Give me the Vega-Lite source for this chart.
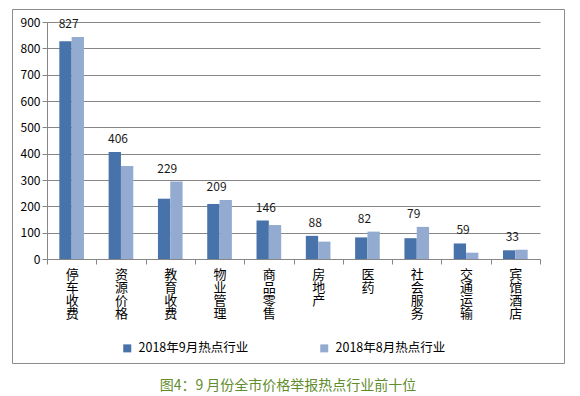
{
  "$schema": "https://vega.github.io/schema/vega-lite/v6.json",
  "autosize": "none",
  "width": 552,
  "height": 354,
  "padding": {"left": 12, "top": 9, "right": 16, "bottom": 33},
  "background": "white",
  "title": {
    "text": "图4：9 月份全市价格举报热点行业前十位",
    "orient": "bottom",
    "anchor": "middle",
    "frame": "group",
    "offset": 16,
    "font": "Noto Sans CJK SC",
    "fontSize": 14,
    "fontWeight": "normal",
    "color": "#5f8d2c"
  },
  "data": {
    "values": [
      {"category": "停车收费", "series": "2018年9月热点行业", "value": 827},
      {"category": "停车收费", "series": "2018年8月热点行业", "value": 843},
      {"category": "资源价格", "series": "2018年9月热点行业", "value": 406},
      {"category": "资源价格", "series": "2018年8月热点行业", "value": 353},
      {"category": "教育收费", "series": "2018年9月热点行业", "value": 229},
      {"category": "教育收费", "series": "2018年8月热点行业", "value": 294},
      {"category": "物业管理", "series": "2018年9月热点行业", "value": 209},
      {"category": "物业管理", "series": "2018年8月热点行业", "value": 224},
      {"category": "商品零售", "series": "2018年9月热点行业", "value": 146},
      {"category": "商品零售", "series": "2018年8月热点行业", "value": 129},
      {"category": "房地产", "series": "2018年9月热点行业", "value": 88},
      {"category": "房地产", "series": "2018年8月热点行业", "value": 66},
      {"category": "医药", "series": "2018年9月热点行业", "value": 82},
      {"category": "医药", "series": "2018年8月热点行业", "value": 104},
      {"category": "社会服务", "series": "2018年9月热点行业", "value": 79},
      {"category": "社会服务", "series": "2018年8月热点行业", "value": 122},
      {"category": "交通运输", "series": "2018年9月热点行业", "value": 59},
      {"category": "交通运输", "series": "2018年8月热点行业", "value": 24},
      {"category": "宾馆酒店", "series": "2018年9月热点行业", "value": 33},
      {"category": "宾馆酒店", "series": "2018年8月热点行业", "value": 35}
    ]
  },
  "encoding": {
    "x": {
      "field": "category",
      "type": "nominal",
      "sort": ["停车收费", "资源价格", "教育收费", "物业管理", "商品零售", "房地产", "医药", "社会服务", "交通运输", "宾馆酒店"],
      "scale": {"range": [35, 528], "paddingInner": 0, "paddingOuter": 0},
      "axis": {
        "title": null,
        "offset": -104,
        "tickBand": "extent",
        "labelAngle": 0,
        "labelExpr": "split(datum.label, '')",
        "labelBaseline": "top",
        "labelAlign": "center",
        "labelLineHeight": 13.3,
        "labelFontSize": 13,
        "labelFont": "Noto Sans CJK SC",
        "labelColor": "#000000",
        "labelPadding": 4,
        "domainColor": "#868686",
        "tickColor": "#868686",
        "tickSize": 5
      }
    }
  },
  "layer": [
    {
      "mark": {"type": "bar"},
      "encoding": {
        "xOffset": {
          "field": "series",
          "type": "nominal",
          "sort": ["2018年9月热点行业", "2018年8月热点行业"],
          "scale": {"paddingInner": 0, "paddingOuter": 1.24}
        },
        "y": {
          "field": "value",
          "type": "quantitative",
          "scale": {"domain": [0, 900], "range": [250, 13], "nice": false},
          "axis": {
            "title": null,
            "offset": -35,
            "values": [0, 100, 200, 300, 400, 500, 600, 700, 800, 900],
            "labelOverlap": false,
            "labelFont": "Noto Sans CJK SC",
            "labelFontSize": 12,
            "labelColor": "#000000",
            "labelPadding": 2,
            "domainColor": "#868686",
            "tickColor": "#868686",
            "tickSize": 5,
            "gridColor": "#868686",
            "gridWidth": 1
          }
        },
        "color": {
          "field": "series",
          "type": "nominal",
          "scale": {
            "domain": ["2018年9月热点行业", "2018年8月热点行业"],
            "range": ["#4772aa", "#94abd1"]
          },
          "legend": {
            "title": null,
            "orient": "none",
            "legendX": 109,
            "legendY": 333,
            "direction": "horizontal",
            "symbolType": "square",
            "symbolSize": 64,
            "symbolStrokeWidth": 0,
            "labelFont": "Noto Sans CJK SC",
            "labelFontSize": 12.5,
            "labelColor": "#000000",
            "labelOffset": 5,
            "columnPadding": 69
          }
        }
      }
    },
    {
      "transform": [
        {"joinaggregate": [{"op": "max", "field": "value", "as": "top"}], "groupby": ["category"]},
        {"filter": "datum.series === '2018年9月热点行业'"}
      ],
      "mark": {
        "type": "text",
        "baseline": "middle",
        "align": "center",
        "dy": -13,
        "dx": -3,
        "font": "Noto Sans CJK SC",
        "fontSize": 12,
        "color": "#1a1a1a"
      },
      "encoding": {
        "y": {
          "field": "top",
          "type": "quantitative",
          "axis": {
            "title": null,
            "offset": -35,
            "values": [0, 100, 200, 300, 400, 500, 600, 700, 800, 900],
            "labelOverlap": false,
            "labelFont": "Noto Sans CJK SC",
            "labelFontSize": 12,
            "labelColor": "#000000",
            "labelPadding": 2,
            "domainColor": "#868686",
            "tickColor": "#868686",
            "tickSize": 5,
            "gridColor": "#868686",
            "gridWidth": 1
          }
        },
        "text": {"field": "value", "type": "quantitative"}
      }
    }
  ],
  "config": {
    "view": {"stroke": "#8c8c8c", "strokeWidth": 1}
  }
}
